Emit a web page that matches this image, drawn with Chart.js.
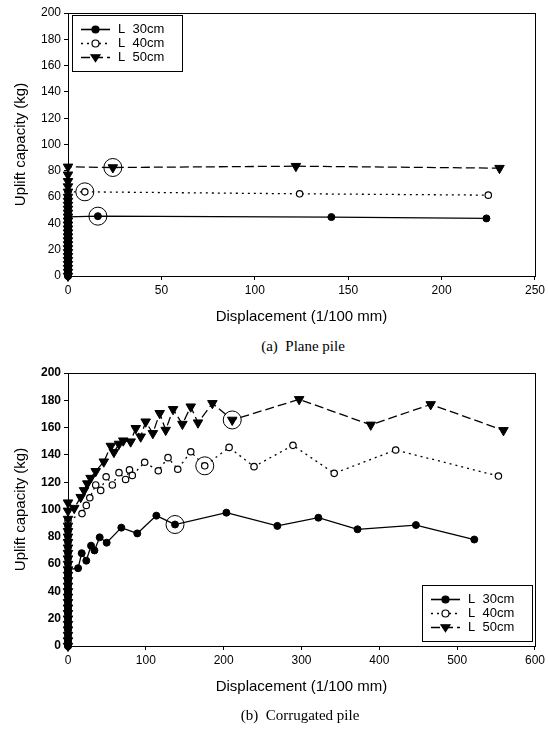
<!DOCTYPE html>
<html>
<head>
<meta charset="utf-8">
<script src="https://cdn.jsdelivr.net/npm/chart.js@4.4.0/dist/chart.umd.min.js"></script>
<style>
    html, body { margin: 0; padding: 0; background: #fff; }
    body { width: 548px; height: 729px; position: relative; overflow: hidden; }
    .wrap { position: absolute; left: 0; width: 548px; }
    #wrap-a { top: 0; height: 330px; }
    #wrap-b { top: 360px; height: 369px; }
    .caption { position: absolute; font-family: "Liberation Serif", serif; font-size: 15px; color: #000; text-align: center; white-space: pre; }
    #cap-a { top: 338px; left: 0; width: 606px; }
    #cap-b { top: 707px; left: 0; width: 600px; }
</style>
</head>
<body>
<div class="wrap" id="wrap-a"><canvas id="planeChart" width="548" height="330"></canvas></div>
<div class="caption" id="cap-a">(a)  Plane pile</div>
<div class="wrap" id="wrap-b"><canvas id="corrChart" width="548" height="369"></canvas></div>
<div class="caption" id="cap-b">(b)  Corrugated pile</div>

<script>
// (a) plane pile - displacement (1/100 mm) vs uplift capacity (kg)
const planeL30X = [0, 0, 0, 0, 0, 0, 0, 0, 0, 0, 0, 0, 0, 0, 0, 0, 0, 0, 0, 16, 141, 224];
const planeL30Y = [0, 2.5, 5, 7.5, 10, 12.5, 15, 17.5, 20, 22.5, 25, 27.5, 30, 32.5, 35, 37.5, 40, 42.5, 45, 45.5, 44.8, 43.8];
const planeL40X = [0, 0, 0, 0, 0, 0, 0, 0, 0, 0, 0, 0, 0, 0, 0, 0, 0, 0, 0, 0, 0, 0, 9, 124, 225];
const planeL40Y = [0, 3, 6, 9, 12, 15, 18, 21, 24, 27, 30, 33, 36, 39, 42, 45, 48, 51, 54, 57, 60, 64, 64, 62.5, 61.5];
const planeL50X = [0, 0, 0, 0, 0, 0, 0, 0, 0, 0, 0, 0, 0, 0, 0, 0, 0, 0, 0, 0, 0, 0, 0, 0, 0, 0, 24, 122, 231];
const planeL50Y = [0, 3, 6, 9, 12, 15, 18, 21, 24, 27, 30, 33, 36, 39, 42, 45, 48, 51, 54, 57, 60, 64, 68, 72, 77, 83, 82.5, 83.5, 82];
const planeMarkX = [16, 9, 24];
const planeMarkY = [45.5, 64, 82.5];

// (b) corrugated pile
const corrL30X = [0, 0, 0, 0, 0, 0, 0, 0, 0, 0, 0, 0, 0, 0, 0, 0, 0, 0, 0, 0, 13, 17.6, 23.5, 29.6, 34, 40.7, 49.7, 68.5, 89, 113.5, 137.5, 203.5, 269, 321.7, 372, 447, 522];
const corrL30Y = [0, 3, 6, 9, 12, 15, 18, 21, 24, 27, 30, 33, 36, 39, 42, 45, 48, 51, 54, 56, 57, 68, 62.5, 73.5, 70, 79.6, 75.7, 86.7, 82.5, 95.5, 89, 97.7, 88, 94, 85.5, 88.6, 78];
const corrL40X = [0, 0, 0, 0, 0, 0, 0, 0, 0, 0, 0, 0, 0, 0, 0, 0, 0, 0, 0, 0, 0, 0, 0, 0, 18, 23.5, 28, 35.6, 42, 49, 57, 65.5, 74, 79, 82.6, 98.5, 116, 128.5, 141, 157.7, 175.7, 207, 239, 289, 342, 421, 553];
const corrL40Y = [0, 4, 8, 12, 16, 20, 24, 28, 32, 36, 40, 44, 48, 52, 56, 60, 64, 68, 72, 76, 80, 84, 88, 92, 97, 103, 108.6, 118, 114, 124, 118, 127, 122, 129, 125, 134.6, 128.4, 138, 129.5, 142.3, 132, 145.5, 131.4, 147, 126.5, 143.6, 124.5];
const corrL50X = [0, 0, 0, 0, 0, 0, 0, 0, 0, 0, 0, 0, 0, 0, 0, 0, 0, 0, 0, 0, 0, 0, 0, 0, 0, 0, 8, 16.3, 20.6, 24.8, 29, 35.6, 46, 55, 59, 65.5, 71, 80.5, 87, 93.4, 99.8, 109, 117.8, 125.5, 135, 147, 157.7, 167, 185.5, 211, 297, 389, 466, 559.5];
const corrL50Y = [0, 4, 8, 12, 16, 20, 24, 28, 32, 36, 40, 44, 48, 52, 56, 60, 64, 68, 72, 76, 80, 84, 88, 93, 99, 105, 101, 109, 114, 119, 123, 128, 135, 146.5, 142, 148, 150.4, 149.7, 159.5, 153.3, 164.3, 155.8, 170.5, 158.2, 173.4, 162.6, 175.3, 163.6, 177.8, 165.6, 180.7, 162, 177, 158];
const corrMarkX = [137.5, 175.7, 211];
const corrMarkY = [89, 132, 165.6];

const seriesNames = ["L  30cm", "L  40cm", "L  50cm"];

const FONT = "'Liberation Sans', Arial, sans-serif";

function zip(xs, ys) {
    return xs.map((x, i) => ({ x: x, y: ys[i] }));
}

// order = drawing order (lower on top), rank = legend row
function makeDatasets(l30x, l30y, l40x, l40y, l50x, l50y, markX, markY) {
    return [
        {
            label: seriesNames[1], data: zip(l40x, l40y), showLine: true, rank: 1, order: 3,
            borderColor: "#000", borderWidth: 1.3, borderDash: [2, 4], pointStyle: "circle", pointRadius: 3.2,
            pointBackgroundColor: "#fff", pointBorderColor: "#000", pointBorderWidth: 1.2
        },
        {
            label: seriesNames[2], data: zip(l50x, l50y), showLine: true, rank: 2, order: 2,
            borderColor: "#000", borderWidth: 1.3, borderDash: [9, 4], pointStyle: "triangle", pointRotation: 180,
            pointRadius: 5.5, pointBackgroundColor: "#000", pointBorderColor: "#000", pointBorderWidth: 1
        },
        {
            label: seriesNames[0], data: zip(l30x, l30y), showLine: true, rank: 0, order: 1,
            borderColor: "#000", borderWidth: 1.3, pointStyle: "circle", pointRadius: 3.5,
            pointBackgroundColor: "#000", pointBorderColor: "#000", pointBorderWidth: 1
        },
        {
            label: "mark", data: zip(markX, markY), showLine: false, order: 0,
            pointStyle: "circle", pointRadius: 9, pointBackgroundColor: "rgba(0,0,0,0)",
            pointBorderColor: "#000", pointBorderWidth: 1
        }
    ];
}

// box round the plot + legend drawn inside the plot area
const framePlugin = {
    id: "frame",
    afterDraw(chart, args, opts) {
        const ctx = chart.ctx;
        const a = chart.chartArea;
        ctx.save();
        ctx.strokeStyle = "#000";
        ctx.lineWidth = 1;
        ctx.setLineDash([]);
        ctx.strokeRect(Math.round(a.left) + 0.5, Math.round(a.top) + 0.5, Math.round(a.right - a.left), Math.round(a.bottom - a.top));

        const w = 110, h = 56;
        const x0 = opts.corner === "tl" ? a.left + 4 : a.right - 113;
        const y0 = opts.corner === "tl" ? a.top + 2 : a.bottom - 61;
        ctx.fillStyle = "#fff";
        ctx.fillRect(x0, y0, w, h);
        ctx.strokeRect(Math.round(x0) + 0.5, Math.round(y0) + 0.5, w, h);

        const items = chart.data.datasets.filter(d => d.rank !== undefined).sort((p, q) => p.rank - q.rank);
        items.forEach((ds, i) => {
            const cy = Math.round(y0 + 14 + i * 14) + 0.5;
            ctx.lineWidth = 1.6;
            ctx.setLineDash(ds.borderDash || []);
            ctx.beginPath();
            ctx.moveTo(x0 + 9, cy);
            ctx.lineTo(x0 + 38, cy);
            ctx.stroke();
            ctx.setLineDash([]);
            ctx.lineWidth = 1.2;
            const mx = x0 + 23.5;
            ctx.fillStyle = ds.pointBackgroundColor;
            ctx.beginPath();
            if (ds.pointStyle === "triangle") {
                const r = 4.5;
                ctx.moveTo(mx - r, cy - r * 0.6);
                ctx.lineTo(mx + r, cy - r * 0.6);
                ctx.lineTo(mx, cy + r * 0.9);
                ctx.closePath();
            } else {
                ctx.arc(mx, cy, 3.5, 0, Math.PI * 2);
            }
            ctx.fill();
            ctx.stroke();
            ctx.fillStyle = "#000";
            ctx.font = "13px " + FONT;
            ctx.textBaseline = "middle";
            ctx.textAlign = "left";
            ctx.fillText(ds.label, x0 + 46, cy);
        });
        ctx.restore();
    }
};

function makeChart(id, datasets, xMax, xStep, corner, boldY, padBottom) {
    return new Chart(document.getElementById(id).getContext("2d"), {
        type: "scatter",
        data: { datasets: datasets },
        options: {
            responsive: false,
            animation: false,
            events: [],
            devicePixelRatio: 1,
            layout: { padding: { left: 12, top: 13, right: 12, bottom: padBottom } },
            datasets: { scatter: { clip: false } },
            plugins: {
                legend: { display: false },
                tooltip: { enabled: false },
                frame: { corner: corner }
            },
            scales: {
                x: {
                    type: "linear", min: 0, max: xMax,
                    ticks: { stepSize: xStep, color: "#000", font: { family: FONT, size: 12 }, padding: 3, maxRotation: 0 },
                    grid: { drawOnChartArea: false, tickLength: 4, color: "#000" },
                    border: { color: "#000" },
                    title: { display: true, text: "Displacement (1/100 mm)", color: "#000", font: { family: FONT, size: 15 }, padding: 0 },
                    afterFit(axis) { axis.height = 50; }
                },
                y: {
                    type: "linear", min: 0, max: 200,
                    ticks: { stepSize: 20, color: "#000", font: { family: FONT, size: 12, weight: boldY ? "bold" : "normal" }, padding: 3 },
                    grid: { drawOnChartArea: false, tickLength: 4, color: "#000" },
                    border: { color: "#000" },
                    title: { display: true, text: "Uplift capacity (kg)", color: "#000", font: { family: FONT, size: 15 }, padding: 0 },
                    afterFit(axis) { axis.width = 56; }
                }
            }
        },
        plugins: [framePlugin]
    });
}

document.addEventListener("DOMContentLoaded", () => {
    makeChart("planeChart",
        makeDatasets(planeL30X, planeL30Y, planeL40X, planeL40Y, planeL50X, planeL50Y, planeMarkX, planeMarkY),
        250, 50, "tl", false, 4);
    makeChart("corrChart",
        makeDatasets(corrL30X, corrL30Y, corrL40X, corrL40Y, corrL50X, corrL50Y, corrMarkX, corrMarkY),
        600, 100, "br", true, 33);
});
</script>
</body>
</html>
